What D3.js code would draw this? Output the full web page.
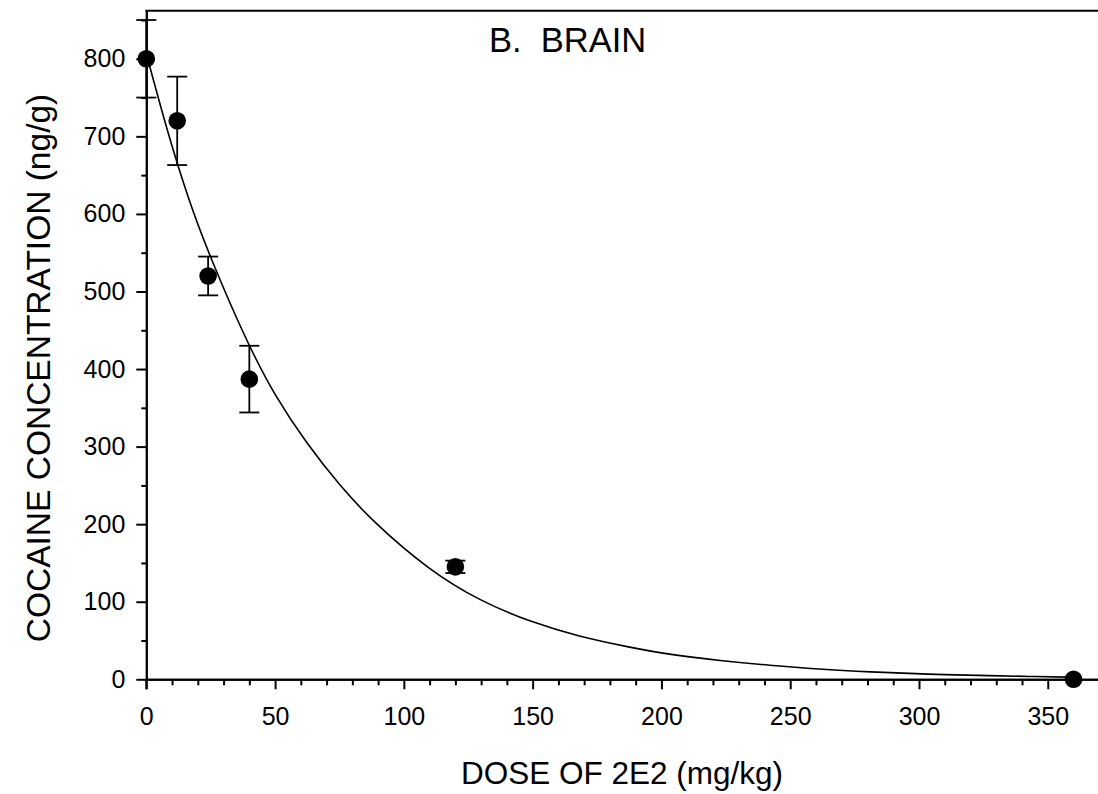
<!DOCTYPE html>
<html>
<head>
<meta charset="utf-8">
<script src="https://cdn.jsdelivr.net/npm/d3@7"></script>
<style>
  body { margin: 0; background: #fff; }
  svg { display: block; font-family: "Liberation Sans", Arial, sans-serif; }
</style>
</head>
<body>
<div id="chart"></div>
<script>
// measured points: dose (mg/kg), concentration (ng/g), error bar half-length
const doses = [0, 12, 24, 40, 120, 360];
const conc = [800, 720, 520, 387, 145, 0];
const errs = [50, 57, 25, 43, 8, 0];

// fitted curve
const curveX = [0, 1.4, 8, 16.3, 24.4, 39.5, 50, 62, 75, 88, 110, 129.5, 149, 168, 188, 203, 223, 242, 261, 281, 303, 329, 344, 360];
const curveY = [805, 790, 708, 619, 547, 431, 365, 305, 250, 203, 140, 101, 74, 55, 41, 32, 24, 18, 13, 9.5, 6.5, 4.6, 3.6, 2.6];

const xMajor = [0, 50, 100, 150, 200, 250, 300, 350];
const yMajor = [0, 100, 200, 300, 400, 500, 600, 700, 800];

const width = 1098, height = 794;

const svg = d3.select("#chart").append("svg")
  .attr("width", width)
  .attr("height", height);

const x = d3.scaleLinear().domain([0, 369.5]).range([146.3, 1098]);
const y = d3.scaleLinear().domain([0, 862]).range([679.3, 10.7]);

// minor ticks
const xMinor = d3.range(0, 361, 10).filter(v => v % 50 !== 0);
const yMinor = d3.range(50, 851, 100);

// x axis
svg.append("g")
  .attr("transform", `translate(0,${y(0)})`)
  .call(d3.axisBottom(x).tickValues(xMajor).tickSize(10).tickPadding(18).tickSizeOuter(0));
svg.append("g")
  .attr("transform", `translate(0,${y(0)})`)
  .call(d3.axisBottom(x).tickValues(xMinor).tickSize(6).tickFormat("").tickSizeOuter(0));

// y axis
svg.append("g")
  .attr("transform", `translate(${x(0)},0)`)
  .call(d3.axisLeft(y).tickValues(yMajor).tickSize(10).tickPadding(11).tickSizeOuter(0));
svg.append("g")
  .attr("transform", `translate(${x(0)},0)`)
  .call(d3.axisLeft(y).tickValues(yMinor).tickSize(5).tickFormat("").tickSizeOuter(0));

svg.selectAll(".domain").attr("stroke", "#000").attr("stroke-width", 2);
svg.selectAll(".tick line").attr("stroke", "#000").attr("stroke-width", 2);
svg.selectAll(".tick text")
  .attr("fill", "#000")
  .style("font-size", "25px");

// extend y axis down to the bottom tick and add top frame line
svg.append("line")
  .attr("x1", x(0)).attr("x2", x(0))
  .attr("y1", y(0)).attr("y2", y(0) + 10)
  .attr("stroke", "#000").attr("stroke-width", 2);
svg.append("line")
  .attr("x1", x(0) - 1).attr("x2", width)
  .attr("y1", y.range()[1]).attr("y2", y.range()[1])
  .attr("stroke", "#000").attr("stroke-width", 2);

// fitted curve
const line = d3.line()
  .x(d => x(d[0]))
  .y(d => y(d[1]))
  .curve(d3.curveBasis);

svg.append("path")
  .datum(d3.zip(curveX, curveY))
  .attr("d", line)
  .attr("fill", "none")
  .attr("stroke", "#000")
  .attr("stroke-width", 1.6);

// error bars
const pts = doses.map((d, i) => ({ dose: d, value: conc[i], err: errs[i] }));
const eb = svg.append("g").attr("stroke", "#000").attr("stroke-width", 1.8);
pts.filter(d => d.err > 0).forEach(d => {
  eb.append("line")
    .attr("x1", x(d.dose)).attr("x2", x(d.dose))
    .attr("y1", y(d.value - d.err)).attr("y2", y(d.value + d.err));
  [d.value - d.err, d.value + d.err].forEach(v => {
    eb.append("line")
      .attr("x1", x(d.dose) - 10).attr("x2", x(d.dose) + 10)
      .attr("y1", y(v)).attr("y2", y(v));
  });
});

// points
svg.selectAll("circle.pt")
  .data(pts)
  .enter().append("circle")
  .attr("class", "pt")
  .attr("cx", d => x(d.dose))
  .attr("cy", d => y(d.value))
  .attr("r", 8.8)
  .attr("fill", "#000");

// labels
svg.append("text")
  .attr("x", 489)
  .attr("y", 52)
  .style("font-size", "34.5px")
  .attr("xml:space", "preserve")
  .text("B.  BRAIN");

svg.append("text")
  .attr("x", 622)
  .attr("y", 784)
  .attr("text-anchor", "middle")
  .style("font-size", "31.5px")
  .text("DOSE OF 2E2 (mg/kg)");

svg.append("text")
  .attr("transform", `translate(50,368) rotate(-90)`)
  .attr("text-anchor", "middle")
  .style("font-size", "33.5px")
  .text("COCAINE CONCENTRATION (ng/g)");
</script>
</body>
</html>
